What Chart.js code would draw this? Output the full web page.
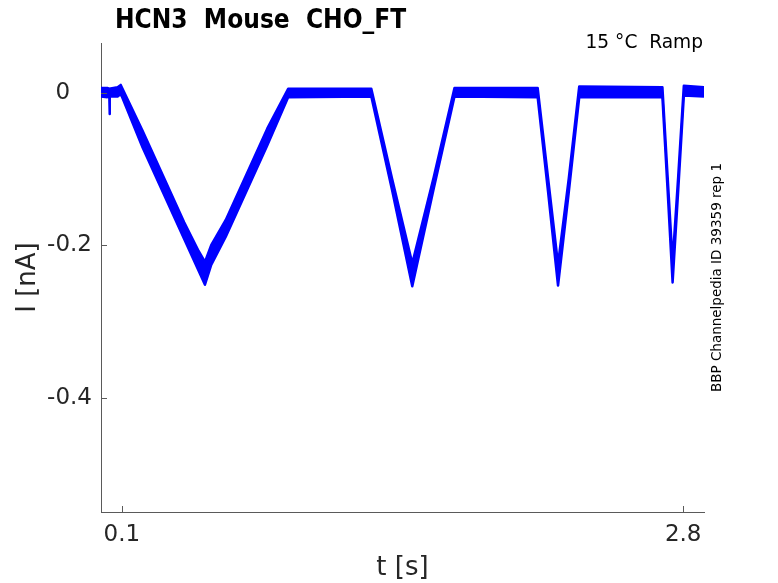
<!DOCTYPE html>
<html>
<head>
<meta charset="utf-8">
<title>HCN3 Mouse CHO_FT</title>
<script src="https://cdn.jsdelivr.net/npm/chart.js@4.4.1/dist/chart.umd.min.js"></script>
<style>
  body { margin: 0; background: #fff; }
</style>
</head>
<body>
<canvas id="ch1" width="778" height="583"></canvas>
<script>
// current trace: time (s), upper and lower edge of the noisy band (nA)
const time = [0.000, 0.030, 0.040, 0.041, 0.043, 0.080, 0.095, 0.100, 0.200, 0.300, 0.400, 0.470,
  0.500, 0.530, 0.600, 0.700, 0.800, 0.900, 1.300, 1.400, 1.497, 1.600, 1.700, 2.100, 2.150, 2.198,
  2.250, 2.300, 2.700, 2.725, 2.749, 2.776, 2.803, 2.900];
const currentHigh = [0.006, 0.006, 0.005, 0.005, 0.005, 0.007, 0.010, 0.007, -0.050, -0.110, -0.170, -0.208,
  -0.222, -0.200, -0.167, -0.107, -0.047, 0.005, 0.005, -0.113, -0.224, -0.111, 0.006, 0.006, -0.112, -0.225,
  -0.112, 0.008, 0.007, -0.110, -0.222, -0.110, 0.009, 0.007];
const currentLow = [-0.005, -0.006, -0.005, -0.028, -0.005, -0.005, -0.002, -0.005, -0.072, -0.132, -0.192, -0.234,
  -0.252, -0.226, -0.189, -0.129, -0.069, -0.006, -0.005, -0.128, -0.254, -0.126, -0.005, -0.006, -0.130, -0.253,
  -0.130, -0.006, -0.006, -0.128, -0.249, -0.128, -0.004, -0.005];

const xTicks = [0.1, 2.8];
const yTicks = [-0.4, -0.2, 0];

const traceColor = '#0000ff';
const textColor = '#262626';
const axisColor = '#5a5a5a';

const upper = time.map((t, i) => ({x: t, y: currentHigh[i]}));
const lower = time.map((t, i) => ({x: t, y: currentLow[i]}));

// MATLAB style: ticks point into the plot, plus the header / side notes
const decorations = {
  id: 'decorations',
  afterDraw(chart) {
    const {ctx, chartArea, scales} = chart;
    ctx.save();
    ctx.strokeStyle = axisColor;
    ctx.lineWidth = 1;
    ctx.beginPath();
    xTicks.forEach(v => {
      const px = Math.round(scales.x.getPixelForValue(v)) + 0.5;
      ctx.moveTo(px, chartArea.bottom);
      ctx.lineTo(px, chartArea.bottom - 6);
    });
    yTicks.forEach(v => {
      const py = Math.round(scales.y.getPixelForValue(v)) + 0.5;
      ctx.moveTo(chartArea.left, py);
      ctx.lineTo(chartArea.left + 6, py);
    });
    ctx.stroke();

    ctx.fillStyle = '#000';
    ctx.textBaseline = 'alphabetic';
    ctx.textAlign = 'left';
    ctx.font = 'bold 26px "DejaVu Sans Condensed", "DejaVu Sans"';
    ctx.fillText('HCN3  Mouse  CHO_FT', 115, 28);

    ctx.textAlign = 'right';
    ctx.font = '18.6px "DejaVu Sans"';
    ctx.fillText('15 °C  Ramp', chartArea.right - 1, 48);

    ctx.translate(717, 277.5);
    ctx.rotate(-Math.PI / 2);
    ctx.textAlign = 'center';
    ctx.textBaseline = 'middle';
    ctx.font = '13.5px "DejaVu Sans"';
    ctx.fillText('BBP Channelpedia ID 39359 rep 1', 0, 0);
    ctx.restore();
  }
};

const ctx = document.getElementById('ch1').getContext('2d');
const chart = new Chart(ctx, {
  type: 'line',
  data: {
    datasets: [
      { data: upper, borderColor: traceColor, borderWidth: 2.5, borderJoinStyle: 'round',
        pointRadius: 0, fill: false },
      { data: lower, borderColor: traceColor, borderWidth: 2.5, borderJoinStyle: 'round',
        pointRadius: 0, backgroundColor: traceColor, fill: '-1' }
    ]
  },
  options: {
    responsive: false,
    animation: false,
    layout: { padding: { top: 43, right: 74, left: 0, bottom: 0 } },
    plugins: { legend: { display: false }, tooltip: { enabled: false } },
    scales: {
      x: {
        type: 'linear',
        min: 0,
        max: 2.9,
        afterFit: s => { s.height = 71; },
        afterBuildTicks: s => { s.ticks = xTicks.map(v => ({value: v})); },
        grid: { drawOnChartArea: false, drawTicks: false },
        border: { display: true, color: axisColor, width: 1 },
        ticks: {
          padding: 9,
          color: textColor,
          font: { family: 'DejaVu Sans', size: 23 },
          maxRotation: 0,
          callback: v => String(v)
        },
        title: {
          display: true,
          text: 't [s]',
          color: textColor,
          font: { family: 'DejaVu Sans', size: 26, lineHeight: 1.1 },
          padding: 0
        }
      },
      y: {
        type: 'linear',
        min: -0.55,
        max: 0.065,
        afterFit: s => { s.width = 101; },
        afterBuildTicks: s => { s.ticks = yTicks.map(v => ({value: v})); },
        grid: { drawOnChartArea: false, drawTicks: false },
        border: { display: true, color: axisColor, width: 1 },
        ticks: {
          padding: 9,
          color: textColor,
          font: { family: 'DejaVu Sans', size: 23 },
          callback: v => (v === 0 ? '0   ' : String(v))
        },
        title: {
          display: true,
          text: 'I [nA]',
          color: textColor,
          font: { family: 'DejaVu Sans', size: 26 },
          padding: 13
        }
      }
    }
  },
  plugins: [decorations]
});
</script>
</body>
</html>
